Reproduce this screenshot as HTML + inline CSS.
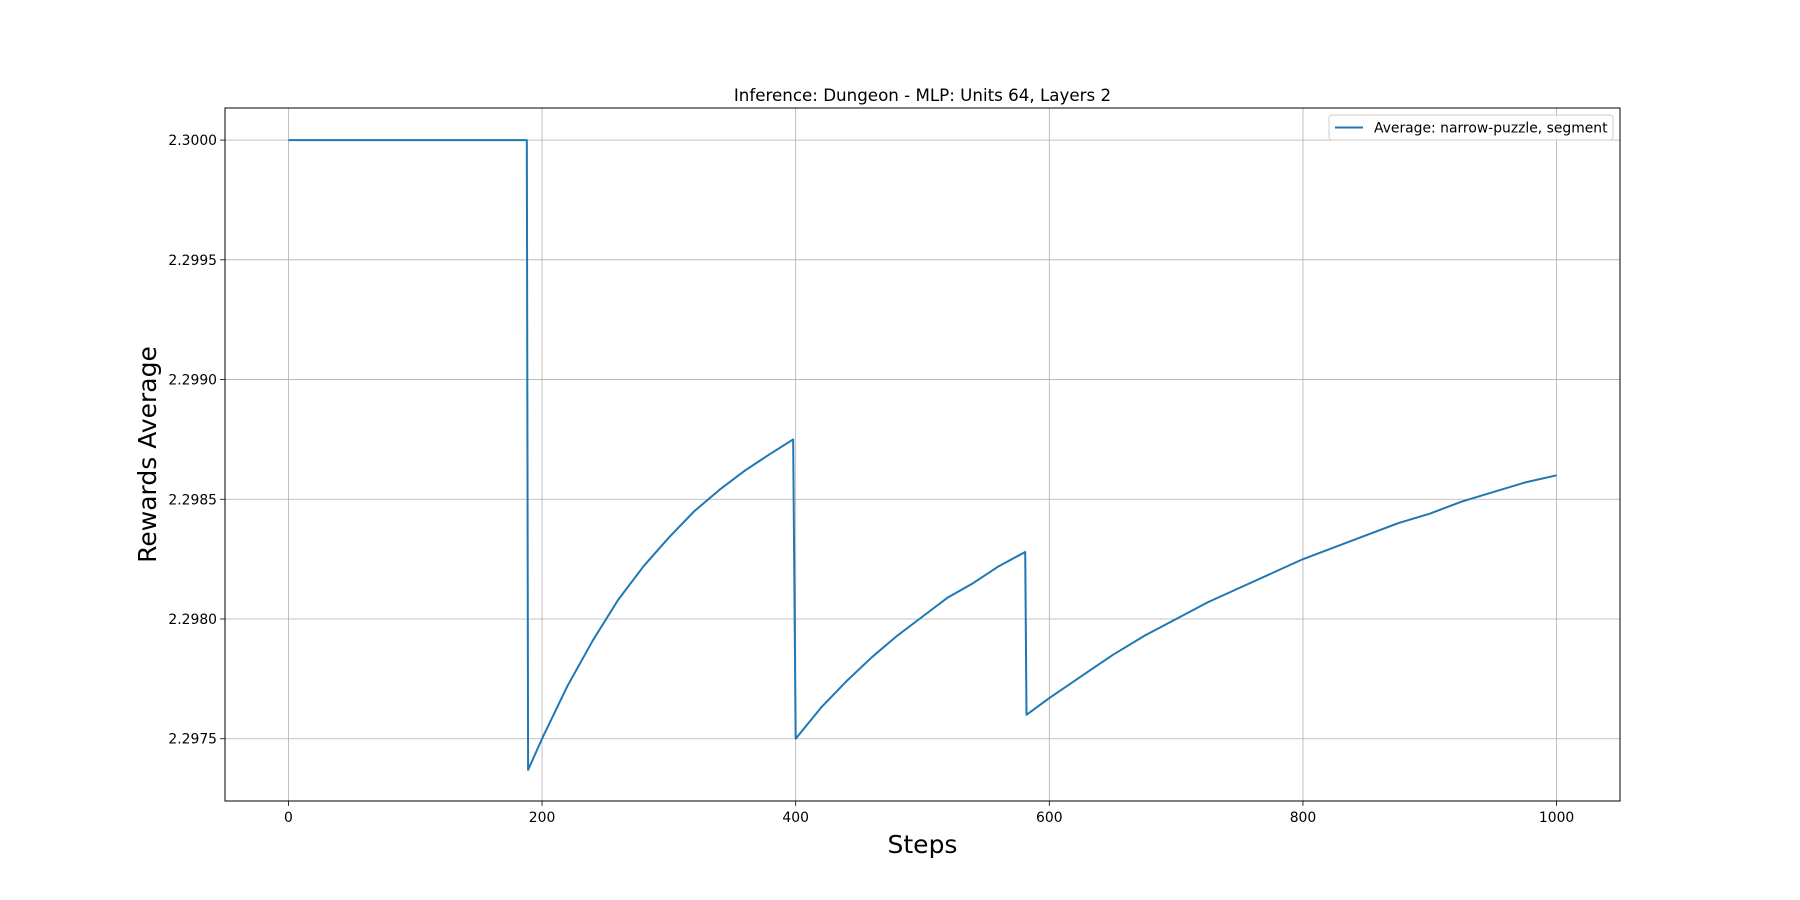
<!DOCTYPE html>
<html><head><meta charset="utf-8"><style>
body{margin:0;background:#fff}
svg{display:block;font-family:"DejaVu Sans","Liberation Sans",sans-serif}
</style></head><body>
<svg id="chart" width="1800" height="900" xmlns="http://www.w3.org/2000/svg">
<rect width="1800" height="900" fill="#fff"/>
<g id="grid"></g>
<g id="series"></g>
<rect x="225" y="108" width="1395" height="693" fill="none" stroke="#000" stroke-width="1"/>
<g id="ticks"></g>
<text x="922.5" y="101" text-anchor="middle" font-size="16.7">Inference: Dungeon - MLP: Units 64, Layers 2</text>
<text x="922.5" y="853" text-anchor="middle" font-size="25">Steps</text>
<text transform="translate(156,454.5) rotate(-90)" text-anchor="middle" font-size="25">Rewards Average</text>
<g>
<rect x="1329" y="115" width="284" height="25" rx="3" fill="#fff" fill-opacity="0.8" stroke="#ccc"/>
<line x1="1335" y1="127.5" x2="1363" y2="127.5" stroke="#1f77b4" stroke-width="2"/>
<text x="1374" y="132.5" font-size="13.9">Average: narrow-puzzle, segment</text>
</g>
</svg>
<script>
const steps = [0,188,189,200,220,240,260,280,300,320,340,360,380,398,400,420,440,460,480,500,520,540,560,581,582,600,625,650,675,700,725,750,775,800,825,850,875,900,925,950,975,1000];
const rewards = [2.3,2.3,2.29737,2.2975,2.29772,2.29791,2.29808,2.29822,2.29834,2.29845,2.29854,2.29862,2.29869,2.29875,2.2975,2.29763,2.29774,2.29784,2.29793,2.29801,2.29809,2.29815,2.29822,2.29828,2.2976,2.29767,2.29776,2.29785,2.29793,2.298,2.29807,2.29813,2.29819,2.29825,2.2983,2.29835,2.2984,2.29844,2.29849,2.29853,2.29857,2.2986];
const xTicks = [0,200,400,600,800,1000];
const yTicks = [2.2975,2.298,2.2985,2.299,2.2995,2.3];
const yTickLabels = ["2.2975","2.2980","2.2985","2.2990","2.2995","2.3000"];
const L=225,R=1620,T=108,B=801;
const xMin=-50,xMax=1050,yMin=2.29724,yMax=2.300134;
const sx=v=>L+(v-xMin)/(xMax-xMin)*(R-L);
const sy=v=>B-(v-yMin)/(yMax-yMin)*(B-T);
const NS="http://www.w3.org/2000/svg";
const grid=document.getElementById('grid'),ticks=document.getElementById('ticks'),series=document.getElementById('series');
function mk(tag,attrs,parent){const e=document.createElementNS(NS,tag);for(const k in attrs)e.setAttribute(k,attrs[k]);parent.appendChild(e);return e;}
xTicks.forEach(v=>{
  const x=sx(v);
  const g=mk('line',{x1:x,x2:x,y1:T,y2:B,stroke:'#b0b0b0','stroke-width':0.8},grid);
  
  
  const t=mk('line',{x1:x,x2:x,y1:B,y2:B+4.9,stroke:'#000','stroke-width':0.8},ticks);
  
  
  const l=mk('text',{x:x,y:B+21,'text-anchor':'middle','font-size':13.9},ticks);
  
  
  l.textContent=v;
});
yTicks.forEach((v,i)=>{
  const y=sy(v);
  const g=mk('line',{x1:L,x2:R,y1:y,y2:y,stroke:'#b0b0b0','stroke-width':0.8},grid);
  
  
  const t=mk('line',{x1:L-4.9,x2:L,y1:y,y2:y,stroke:'#000','stroke-width':0.8},ticks);
  
  
  const l=mk('text',{x:L-8,y:y+5,'text-anchor':'end','font-size':13.9},ticks);
  
  
  l.textContent=yTickLabels[i];
});
const d=steps.map((s,i)=>(i?'L':'M')+sx(s).toFixed(2)+','+sy(rewards[i]).toFixed(2)).join(' ');
const p=mk('path',{d:d,fill:'none',stroke:'#1f77b4','stroke-width':2,'stroke-linejoin':'round'},series);


</script>
</body></html>
